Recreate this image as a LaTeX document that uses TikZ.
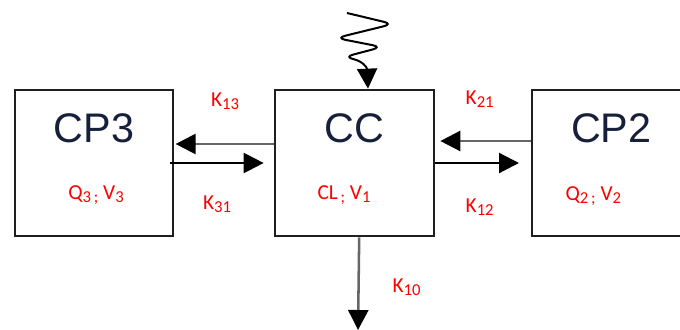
\documentclass[tikz,border=0pt]{standalone}
\usepackage{fontspec}
\setmainfont{Carlito}
\newfontfamily\boxfont{Liberation Sans}
\usetikzlibrary{arrows.meta, positioning, calc}
\definecolor{titleblue}{RGB}{22,32,58}
\newcommand{\lowidx}[1]{\raisebox{-0.3ex}{\fontsize{12.5pt}{12.5pt}\selectfont #1}}

\begin{document}
\begin{tikzpicture}[
  x=0.75pt, y=-0.75pt,
  comp/.style={draw=black!88, line width=1.5pt, minimum width=119pt, minimum height=110pt},
  title/.style={font=\boxfont\fontsize{31pt}{31pt}\selectfont, text=titleblue, anchor=base},
  vars/.style={font=\fontsize{16pt}{16pt}\selectfont, text=red, anchor=base},
  rate/.style={font=\fontsize{16pt}{16pt}\selectfont, text=red},
  flow/.style={line width=1.6pt, -{Triangle[length=15pt,width=15pt,color=black]}},
  back/.style={flow, line width=1.9pt, draw=black!60},
]
  \clip (0,0) rectangle (680,329);

  % compartments
  \node[comp] (cpthree) at (94,163) {};
  \node[comp, right=75pt of cpthree] (cc) {};
  \node[comp, right=72pt of cc] (cptwo) {};

  \node[title] (cpthreetitle) at ([yshift=-40pt]cpthree.north) {CP3};
  \node[title] (cctitle)      at ([yshift=-40pt]cc.north)      {CC};
  \node[title] (cptwotitle)   at ([yshift=-40pt]cptwo.north)   {CP2};

  \node[vars] (cpthreevars) at ([xshift=1.5pt,yshift=-83pt]cpthree.north) {Q\lowidx{3\,;} V\lowidx{3}};
  \node[vars] (ccvars)      at ([xshift=-8pt,yshift=-83pt]cc.north)       {CL\lowidx{\,;} V\lowidx{1}};
  \node[vars] (cptwovars)   at ([xshift=-13.5pt,yshift=-84pt]cptwo.north) {Q\lowidx{2\,;} V\lowidx{2}};

  % exchanges between compartments
  \draw[back] ([yshift=14.25pt]cc.west) -- ([yshift=14.25pt,xshift=1pt]cpthree.east)
       node[rate, midway, yshift=32pt] (kthirteen) {K\lowidx{13}};
  \draw[flow] ([xshift=-3pt]cpthree.east) -- ([xshift=-8pt]cc.west)
       node[rate, midway, yshift=-31pt] (kthirtyone) {K\lowidx{31}};
  \draw[back] ([yshift=16.5pt]cptwo.west) -- ([yshift=16.5pt,xshift=4pt]cc.east)
       node[rate, midway, xshift=-4.5pt, yshift=31.5pt] (ktwentyone) {K\lowidx{21}};
  \draw[flow] (cc.east) -- ([xshift=-9pt]cptwo.west)
       node[rate, midway, xshift=2pt, yshift=-33pt] (ktwelve) {K\lowidx{12}};

  % elimination
  \coordinate (drain) at (358,330);
  \draw[back] ([xshift=3.4pt]cc.south) -- (drain)
       node[rate, midway, xshift=36pt, yshift=-3pt] (kten) {K\lowidx{10}};

  % dose input
  \coordinate (dose) at (347,13);
  \draw[flow, line width=1.5pt, rounded corners=7pt] (dose) -- (393,24) -- (336,38) -- (382,47) -- (344,57)
       .. controls (362,61) and (367,67) .. ([xshift=10pt]cc.north);
\end{tikzpicture}
\end{document}
